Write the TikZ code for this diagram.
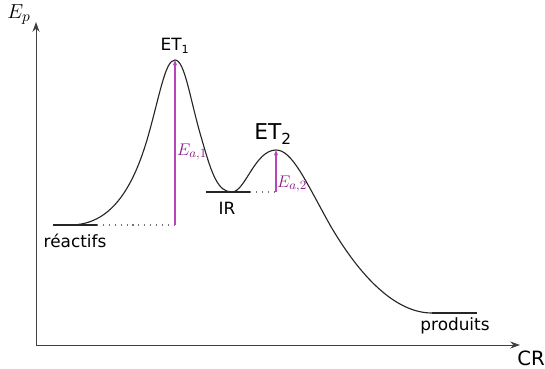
\documentclass[tikz,border=0pt]{standalone}
\usepackage{fontspec}
\setmainfont{DejaVu Sans}
\usetikzlibrary{arrows.meta}
\definecolor{eatext}{RGB}{140,30,140}
\definecolor{ealine}{RGB}{185,70,185}

\begin{document}
\begin{tikzpicture}[x=0.025cm,y=-0.025cm,
  axis/.style={line width=.7pt,black!75,-{Stealth[length=7pt,width=5pt]}},
  level/.style={line width=1pt,black!85},
  ea/.style={line width=.8pt,ealine,-{Stealth[length=4pt,width=3pt]}},
  dots/.style={line width=.8pt,black!55,dash pattern=on .8pt off 3.4pt},
  lbl/.style={font=\fontsize{12}{14}\selectfont,inner sep=1pt}]
\useasboundingbox (0,0) rectangle (545,368);

    % axes
    \coordinate (O) at (36,345);
    \coordinate (yEnd) at (36,22);
    \coordinate (xEnd) at (520,345);
    \draw[axis] (O)--(yEnd);
    \draw[axis] (O)--(xEnd);
    \node[font=\fontsize{15}{17}\selectfont] (Ep) at (19,15) {$E_p$};
    \node[font=\fontsize{14}{16}\selectfont] (CR) at (531,358) {CR};

    % points of the path
    \coordinate (R0) at (53,225);
    \coordinate (R) at (97,225);
    \coordinate (ET1) at (175,60);
    \coordinate (IR0) at (206,192);
    \coordinate (IR) at (250,192);
    \coordinate (ET2) at (276,150);
    \coordinate (P) at (432,313);
    \coordinate (P1) at (477,313);
    \coordinate (ea1) at (175,225);
    \coordinate (ea2) at (276,192);

    % levels
    \draw[level] (R0)--(R);
    \draw[level] (IR0)--(IR);
    \draw[level] (P)--(P1);

    % reaction path
    \draw[line width=.8pt,black!85] (70,225) .. controls (110,225) and (132,190) .. (147,140)
        .. controls (160,95) and (165,60) .. (ET1)
        .. controls (185,60) and (190,100) .. (202,140)
        .. controls (212,175) and (218,192) .. (232,192)
        .. controls (245,192) and (255,150) .. (ET2)
        .. controls (292,150) and (305,180) .. (330,225)
        .. controls (365,285) and (400,313) .. (P);

    % dotted references
    \draw[dots] (R)--(ea1);
    \draw[dots] (IR)--(ea2);

    % activation energies
    \draw[ea] (ea1)--(ET1);
    \draw[ea] (ea2)--(ET2);
    \node[text=eatext,font=\fontsize{13}{15}\selectfont] (Ea1) at (192,152) {$E_{a,1}$};
    \node[text=eatext,font=\fontsize{13}{15}\selectfont] (Ea2) at (292,184) {$E_{a,2}$};

    % labels
    \node[lbl] (lET1) at (175,46) {ET\textsubscript{1}};
    \node[font=\fontsize{15.5}{18}\selectfont] (lET2) at (273,134) {ET\textsubscript{2}};
    \node[lbl] (lIR) at (227,208) {IR};
    \node[lbl] (lR) at (75,241) {réactifs};
    \node[lbl] (lP) at (455,326) {produits};
\end{tikzpicture}
\end{document}
